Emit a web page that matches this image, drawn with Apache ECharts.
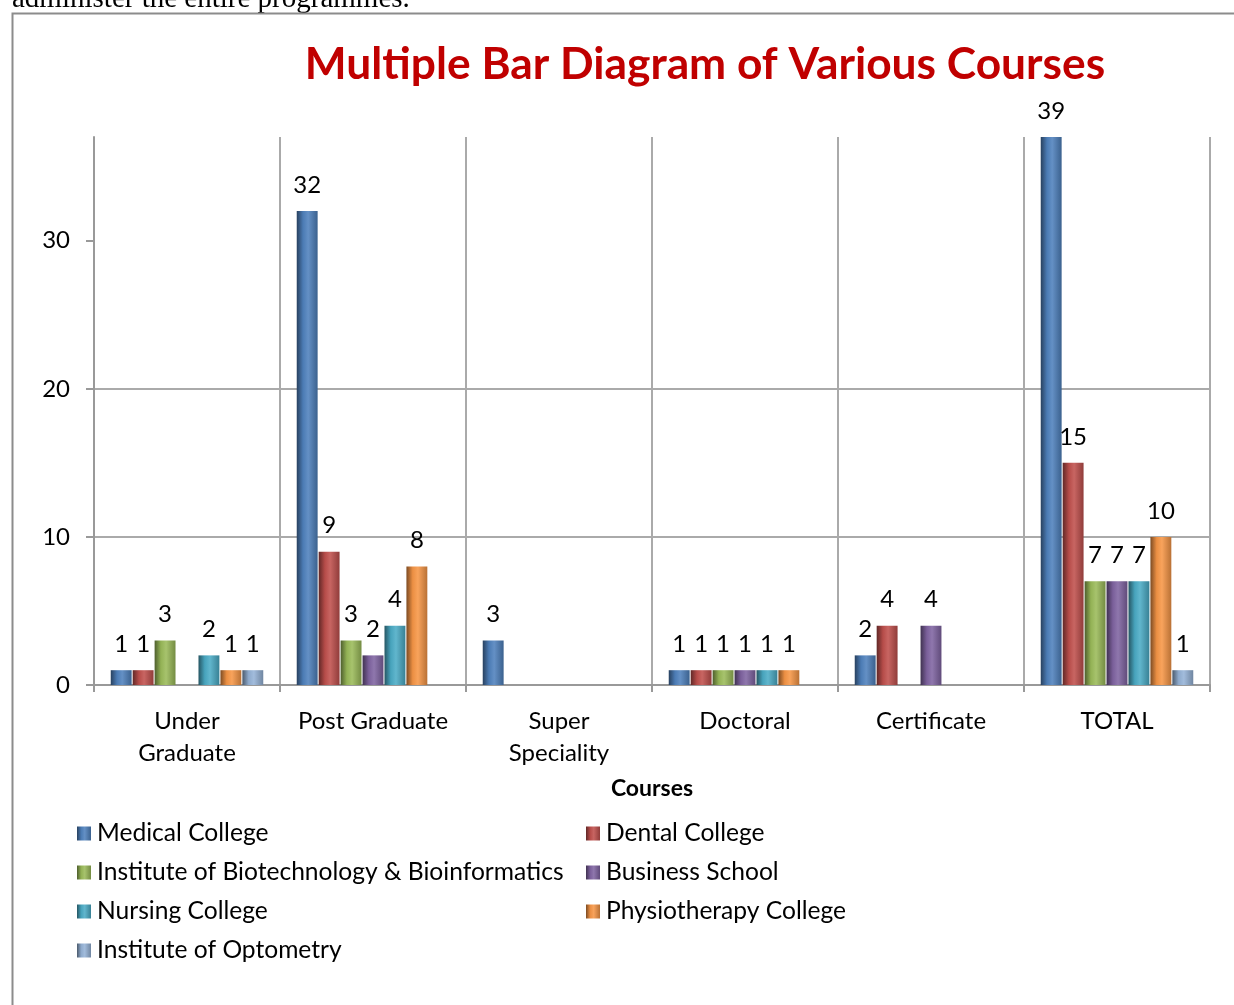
<!DOCTYPE html>
<html>
<head>
    <meta charset="utf-8">
    <title>Multiple Bar Diagram of Various Courses</title>
    <script src="https://cdn.jsdelivr.net/npm/echarts@6/dist/echarts.min.js"></script>
    <style>
        html, body { margin: 0; padding: 0; background: #fff; }
    </style>
</head>
<body>
<div id="main" style="width: 1234px;height:1005px;"></div>

<script type="text/javascript">
    // data
    var courses = ['Under\nGraduate', 'Post Graduate', 'Super\nSpeciality', 'Doctoral', 'Certificate', 'TOTAL'];
    var medical = [1, 32, 3, 1, 2, 39];
    var dental = [1, 9, '-', 1, 4, 15];
    var biotech = [3, 3, '-', 1, '-', 7];
    var business = [0, 2, '-', 1, 4, 7];
    var nursing = [2, 4, '-', 1, '-', 7];
    var physio = [1, 8, '-', 1, '-', 10];
    var optometry = [1, '-', '-', '-', '-', 1];

    var names = ['Medical College', 'Dental College', 'Institute of Biotechnology & Bioinformatics',
        'Business School', 'Nursing College', 'Physiotherapy College', 'Institute of Optometry'];
    var values = [medical, dental, biotech, business, nursing, physio, optometry];
    var colors = ['#4F81BD', '#C0504D', '#9BBB59', '#8064A2', '#4BACC6', '#F79646', '#95B3D7'];

    var font = 'Lato, "Open Sans", sans-serif';

    // shade a hex colour, k<0 darker, k>0 lighter
    var shade = function (hex, k) {
        var n = parseInt(hex.slice(1), 16);
        var c = [(n >> 16) & 255, (n >> 8) & 255, n & 255].map(function (v) {
            v = k < 0 ? v * (1 + k) : v + (255 - v) * k;
            return Math.round(v);
        });
        return 'rgb(' + c.join(',') + ')';
    };

    // cylinder look
    var tube = function (hex) {
        return new echarts.graphic.LinearGradient(0, 0, 1, 0, [
            {offset: 0, color: shade(hex, -0.5)},
            {offset: 0.3, color: shade(hex, -0.05)},
            {offset: 0.55, color: shade(hex, 0.12)},
            {offset: 1, color: shade(hex, -0.25)}
        ]);
    };

    var series = [];
    for (var i = 0; i < names.length; i++) {
        series.push({
            name: names[i],
            type: 'bar',
            data: values[i],
            barGap: '5%',
            barCategoryGap: '18%',
            itemStyle: { color: tube(colors[i]) },
            label: {
                show: true,
                position: 'top',
                distance: 14,
                fontFamily: font,
                fontSize: 24,
                color: '#000',
                formatter: function (p) { return p.value === 0 ? '' : p.value; }
            }
        });
    }

    var legendStyle = {
        orient: 'vertical',
        itemWidth: 14,
        itemHeight: 14,
        itemGap: 14,
        icon: 'rect',
        textStyle: { fontFamily: font, fontSize: 24.6, color: '#000', padding: [0, 0, 0, 1] }
    };

    var chart = echarts.init(document.getElementById('main'));
    var option = {
        animation: false,
        color: colors,
        title: {
            text: 'Multiple Bar Diagram of Various Courses',
            left: 700,
            textAlign: 'center',
            top: 38,
            textStyle: { fontFamily: font, fontSize: 44.3, fontWeight: 'bold', color: '#C00000' }
        },
        legend: [
            echarts.util.extend({
                left: 72, top: 816,
                data: [names[0], names[2], names[4], names[6]]
            }, legendStyle),
            echarts.util.extend({
                left: 581, top: 816,
                data: [names[1], names[3], names[5]]
            }, legendStyle)
        ],
        graphic: [
            {
                type: 'text', left: 12, top: -15,
                style: { text: 'administer the entire programmes.', fontFamily: '"Liberation Serif", serif', fontSize: 29, fill: '#000' }
            },
            {
                type: 'rect', left: 10, top: 11, silent: true,
                shape: { width: 1240, height: 1010 },
                style: { fill: 'none', stroke: '#8c8c8c', lineWidth: 2 }
            }
        ],
        grid: { left: 94, right: 24, top: 137, bottom: 320 },
        xAxis: {
            type: 'category',
            data: courses,
            name: 'Courses',
            nameLocation: 'middle',
            nameGap: 92,
            nameTextStyle: { fontFamily: font, fontSize: 23, fontWeight: 'bold', color: '#000' },
            axisLine: { lineStyle: { color: '#999', width: 2 } },
            axisTick: { show: true, interval: 0, length: 7, lineStyle: { color: '#999', width: 2 } },
            splitLine: { show: true, interval: 0, lineStyle: { color: '#aaa', width: 2 } },
            axisLabel: { interval: 0, fontFamily: font, fontSize: 24, color: '#000', margin: 20, lineHeight: 32 }
        },
        yAxis: {
            type: 'value',
            min: 0,
            max: 37,
            interval: 10,
            axisLine: { show: true, lineStyle: { color: '#999', width: 2 } },
            axisTick: { show: true, length: 8, customValues: [0, 10, 20, 30], lineStyle: { color: '#999', width: 2 } },
            splitLine: { show: true, showMaxLine: false, lineStyle: { color: '#aaa', width: 2 } },
            axisLabel: { fontFamily: font, fontSize: 24, color: '#000', margin: 24, customValues: [0, 10, 20, 30] }
        },
        series: series
    };
    chart.setOption(option);
</script>
</body>
</html>
